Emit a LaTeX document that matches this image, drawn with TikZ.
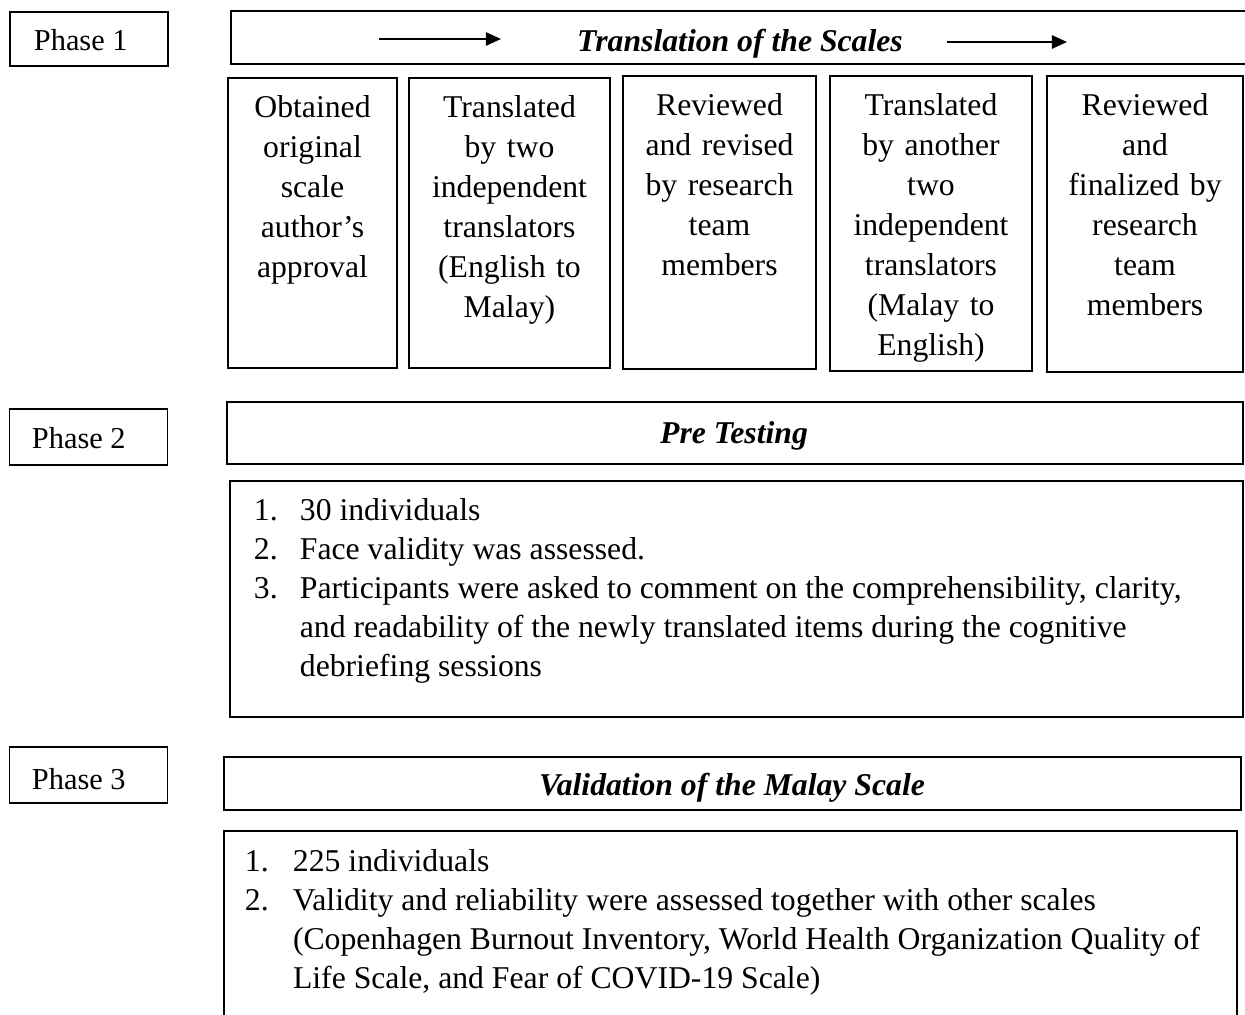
\documentclass[tikz,border=0pt]{standalone}
\usepackage{fontspec}
\setmainfont{Liberation Serif}
\usetikzlibrary{arrows.meta,fit}
\newcommand{\pxl}{0.3785pt}

\begin{document}
\begin{tikzpicture}[x=\pxl, y=-\pxl, line width=0.7pt,
    box/.style={draw, inner sep=0pt},
    phase/.style={anchor=base west, inner sep=0pt, font=\fontsize{11.5}{14}\selectfont},
    head/.style={anchor=base, inner sep=0pt, font=\fontsize{12}{14}\selectfont\bfseries\itshape},
    steptext/.style={anchor=base, inner sep=0pt, align=center, text width=185*\pxl, font=\fontsize{12}{15.14}\selectfont},
    items/.style={anchor=base west, inner sep=0pt, font=\fontsize{12}{14.8}\selectfont},
    flow/.style={-{Triangle[length=5.7pt,width=5pt]}, line width=0.75pt}]
  \useasboundingbox (0,0) rectangle (1245,1014);
  \clip (0,0) rectangle (1245,1014);

  % phase 1
  \node[box, fit={(10,12) (168,66)}] (p1) {};
  \node[phase] (p1t) at (33,50) {Phase 1};
  \node[box, fit={(231,11) (1252,64)}] (t1) {};
  \node[head] (t1t) at (740,51) {Translation of the Scales};
  \coordinate (a1) at (379,39);
  \coordinate (a2) at (501,39);
  \coordinate (a3) at (947,42);
  \coordinate (a4) at (1067,42);
  \draw[flow] (a1) -- (a2);
  \draw[flow] (a3) -- (a4);

  \node[box, fit={(228,78) (397,368)}] (s1) {};
  \node[box, fit={(409,78) (610,368)}] (s2) {};
  \node[box, fit={(623,76) (816,369)}] (s3) {};
  \node[box, fit={(830,76) (1032,371)}] (s4) {};
  \node[box, fit={(1047,76) (1243,372)}] (s5) {};
  \node[steptext] (s1t) at (312.5,117) {Obtained\\original\\scale\\author’s\\approval};
  \node[steptext] (s2t) at (509.5,117) {Translated\\by two\\independent\\translators\\(English to\\Malay)};
  \node[steptext] (s3t) at (719.5,115) {Reviewed\\and revised\\by research\\team\\members};
  \node[steptext] (s4t) at (931,115) {Translated\\by another\\two\\independent\\translators\\(Malay to\\English)};
  \node[steptext] (s5t) at (1145,115) {Reviewed\\and\\finalized by\\research\\team\\members};

  % phase 2
  \node[box, fit={(9.5,409) (167.5,465)}] (p2) {};
  \node[phase] (p2t) at (31,448) {Phase 2};
  \node[box, fit={(227,402) (1243,464)}] (t2) {};
  \node[head] (t2t) at (734,443) {Pre Testing};
  \node[box, fit={(230,481) (1243,717)}] (l2) {};
  \node[items] (l2t) at (253,520) {\begin{tabular}[t]{@{}p{17.4pt}@{}l@{}}
    1. & 30 individuals\\
    2. & Face validity was assessed.\\
    3. & Participants were asked to comment on the comprehensibility, clarity,\\
       & and readability of the newly translated items during the cognitive\\
       & debriefing sessions
  \end{tabular}};

  % phase 3
  \node[box, fit={(9.5,747) (167.5,803)}] (p3) {};
  \node[phase] (p3t) at (31,789) {Phase 3};
  \node[box, fit={(224,757) (1241,810)}] (t3) {};
  \node[head] (t3t) at (732,795) {Validation of the Malay Scale};
  \node[box, fit={(224,831) (1237,1040)}] (l3) {};
  \node[items] (l3t) at (244,871) {\begin{tabular}[t]{@{}p{18.2pt}@{}l@{}}
    1. & 225 individuals\\
    2. & Validity and reliability were assessed together with other scales\\
       & (Copenhagen Burnout Inventory, World Health Organization Quality of\\
       & Life Scale, and Fear of COVID-19 Scale)
  \end{tabular}};
\end{tikzpicture}
\end{document}
